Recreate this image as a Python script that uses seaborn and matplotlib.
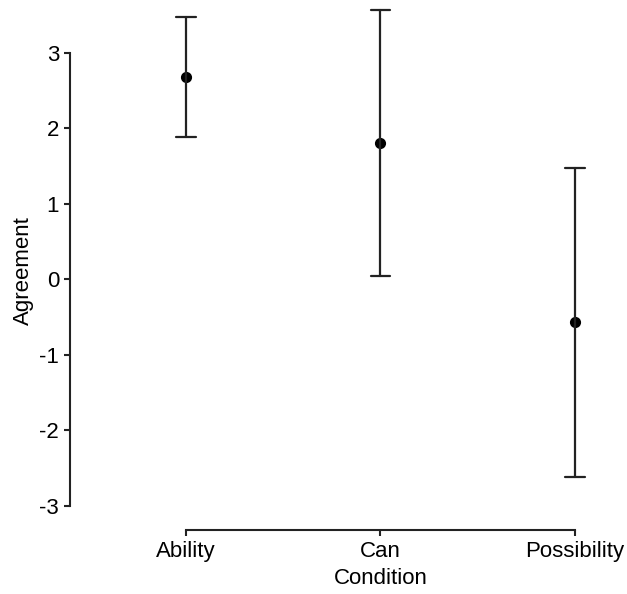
import numpy as np
import pandas as pd
import matplotlib
matplotlib.use('Agg')
import matplotlib.pyplot as plt
import seaborn as sns

# condition means and half-widths of the error bars
conditions = ['Ability', 'Can', 'Possibility']
means = [2.68, 1.80, -0.57]
errors = [0.79, 1.76, 2.04]

# two rows per condition (low, high) so that mean = midpoint and range = bar
rows = []
for c, m, e in zip(conditions, means, errors):
    rows.append({'Condition': c, 'Agreement': m - e})
    rows.append({'Condition': c, 'Agreement': m + e})
Data = pd.DataFrame(rows)

sns.set_style('ticks')
plt.rcParams['font.family'] = ['Liberation Sans', 'DejaVu Sans']
plt.rcParams['font.size'] = 16
plt.rcParams['axes.unicode_minus'] = False

fig = plt.figure(figsize=(6.27, 5.94), dpi=100)
ax = fig.add_axes([98.5 / 627, 80.4 / 594, 525.1 / 627, 510 / 594])

sns.pointplot(data=Data, x='Condition', y='Agreement', order=conditions,
              estimator='mean', errorbar=lambda v: (v.min(), v.max()),
              linestyle='none', color='black', markersize=6, capsize=0.1,
              err_kws={'linewidth': 1.6, 'color': '#222222'}, ax=ax)

ax.set_xlim(-0.45, 2.25)
ax.set_ylim(-3.1, 3.65)
ax.set_yticks(range(-3, 4))

sns.despine(ax=ax)
ax.spines['left'].set_position(('outward', 20.5))
ax.spines['bottom'].set_position(('outward', 11.8))
ax.spines['left'].set_bounds(-3, 3)
ax.spines['bottom'].set_bounds(0, 2)
for s in ['left', 'bottom']:
    ax.spines[s].set_linewidth(1.5)
    ax.spines[s].set_color('#222222')

ax.tick_params(axis='both', length=4.3, width=1.5, color='#222222',
               labelsize=16, labelcolor='black', pad=3.5)

ax.set_ylabel('Agreement', fontsize=16, color='black')
ax.set_xlabel('Condition', fontsize=16, color='black')
ax.yaxis.set_label_coords(-0.122, 0.12, transform=ax.get_yaxis_transform())
ax.xaxis.set_label_coords(1, -0.107, transform=ax.get_xaxis_transform())

plt.savefig('out.png', dpi=100)
